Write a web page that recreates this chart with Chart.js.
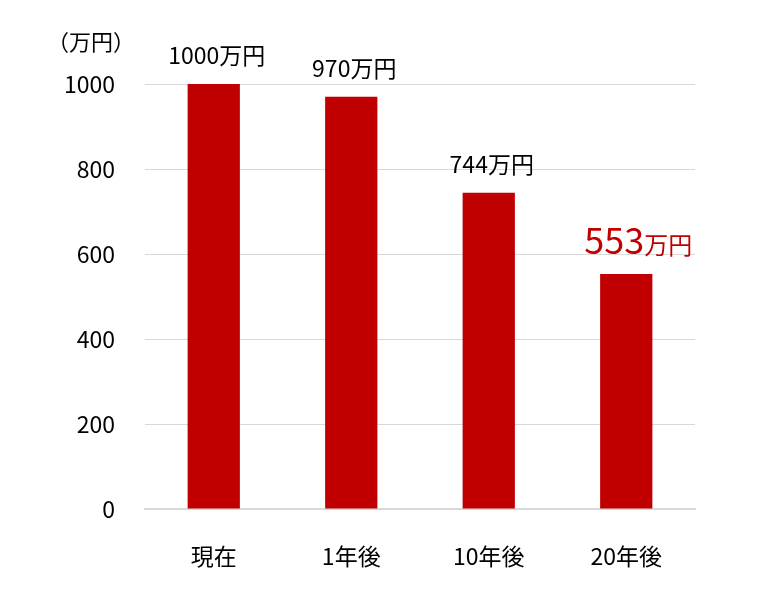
<!DOCTYPE html>
<html lang="ja">
<head>
    <meta charset="UTF-8">
    <title>収入の推移</title>
    <script src="https://cdn.jsdelivr.net/npm/chart.js@4.4.1/dist/chart.umd.min.js"></script>
    <style>
      body { margin: 0; background: #fff; }
      #wrap { width: 763px; height: 596px; position: relative; }
    </style>
</head>
<body>
    <div id="wrap"><canvas id="chartIncome"></canvas></div>
    <script>
      const categories = ['現在', '1年後', '10年後', '20年後'];
      const values = [1000, 970, 744, 553];
      const yTicks = [0, 200, 400, 600, 800, 1000];
      const unitLabel = '（万円）';
      const unitSuffix = '万円';

      const FONT = '"Noto Sans CJK JP", "Noto Sans", sans-serif';
      const RED = '#c00000';

      // labels above bars, the last one highlighted
      const barLabels = {
        id: 'barLabels',
        afterDatasetsDraw(chart) {
          const ctx = chart.ctx;
          const meta = chart.getDatasetMeta(0);
          ctx.save();
          ctx.textBaseline = 'alphabetic';
          meta.data.forEach((bar, i) => {
            const num = String(values[i]);
            const last = i === values.length - 1;
            const numFont = (last ? '36px ' : '23px ') + FONT;
            const sufFont = (last ? '24px ' : '23px ') + FONT;
            ctx.font = numFont;
            const w1 = ctx.measureText(num).width;
            ctx.font = sufFont;
            const w2 = ctx.measureText(unitSuffix).width;
            const x0 = bar.x - (w1 + w2) / 2 + (last ? 12 : 3);
            const y = bar.y - 20;
            ctx.fillStyle = last ? RED : '#000';
            ctx.textAlign = 'left';
            ctx.font = numFont;
            ctx.fillText(num, x0, y);
            ctx.font = sufFont;
            ctx.fillText(unitSuffix, x0 + w1, y);
          });
          // unit label
          ctx.fillStyle = '#000';
          ctx.font = '22px ' + FONT;
          ctx.textAlign = 'left';
          ctx.fillText(unitLabel, 47, 50);
          ctx.restore();
        }
      };

      new Chart(document.getElementById('chartIncome'), {
        type: 'bar',
        data: {
          labels: categories,
          datasets: [{
            data: values,
            backgroundColor: RED,
            barPercentage: 0.76,
            categoryPercentage: 0.5
          }]
        },
        options: {
          responsive: true,
          maintainAspectRatio: false,
          animation: false,
          layout: { padding: { top: 84, right: 68, left: 0, bottom: 0 } },
          plugins: {
            legend: { display: false },
            tooltip: { enabled: false }
          },
          scales: {
            x: {
              grid: { display: false },
              border: { color: '#d9d9d9', width: 2 },
              ticks: { color: '#000', font: { family: FONT, size: 23 }, padding: 25 },
              afterFit(scale) { scale.height = 596 - 509; }
            },
            y: {
              min: 0,
              max: 1000,
              afterBuildTicks(scale) { scale.ticks = yTicks.map(v => ({ value: v })); },
              grid: { color: '#d9d9d9', lineWidth: 1, drawTicks: false },
              border: { display: false },
              ticks: {
                color: '#000',
                font: { family: FONT, size: 23 },
                padding: 30,
                callback: v => String(v)
              },
              afterFit(scale) { scale.width = 145; }
            }
          }
        },
        plugins: [barLabels]
      });
    </script>
</body>
</html>
